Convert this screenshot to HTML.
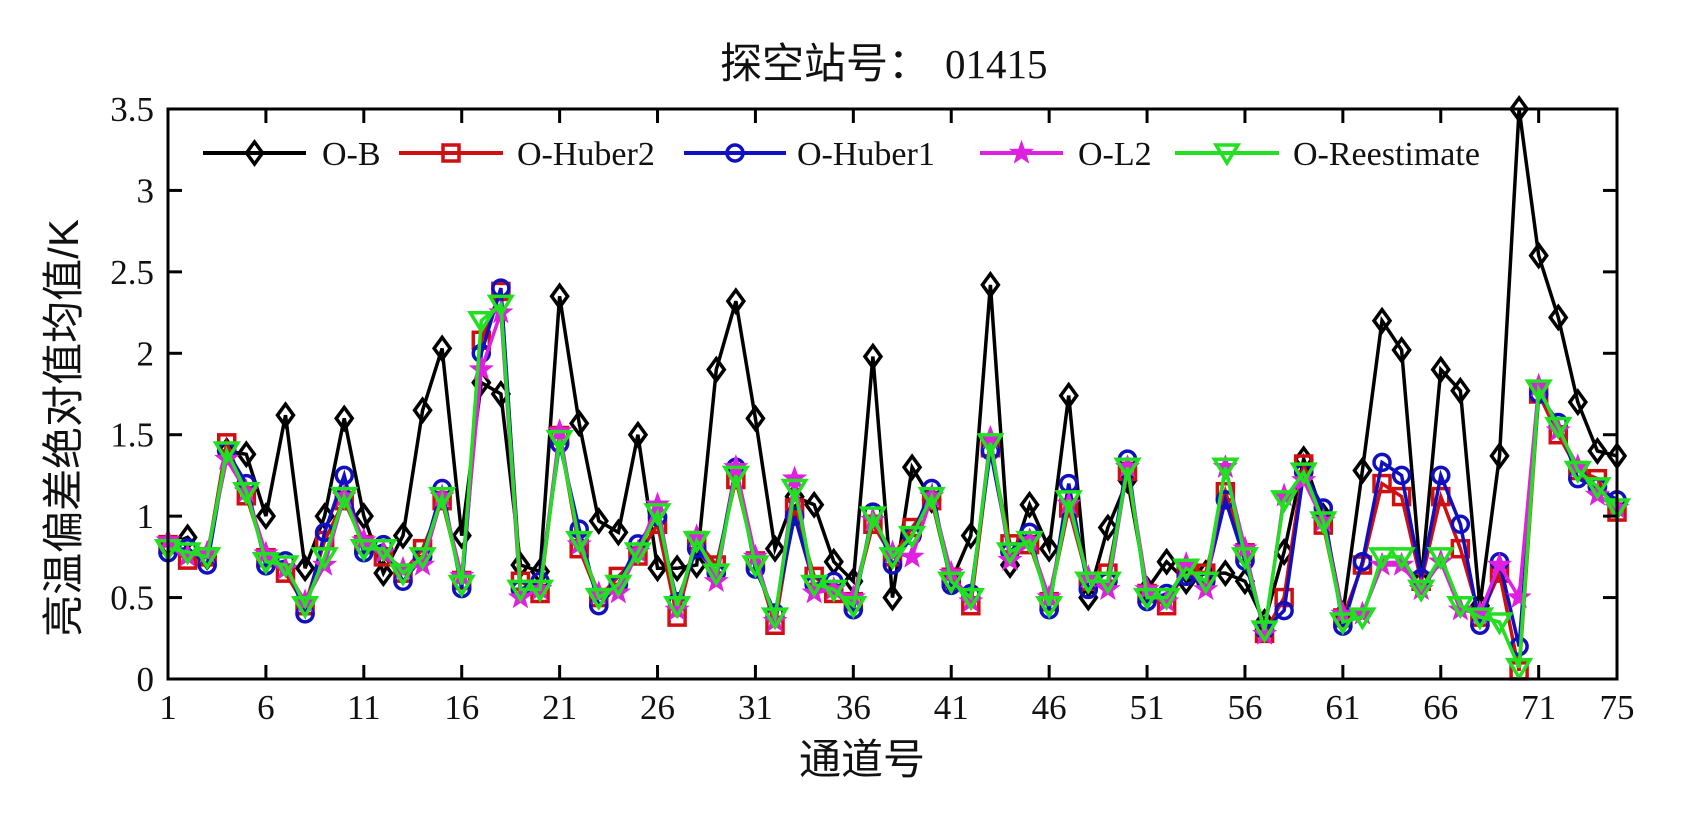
<!DOCTYPE html>
<html><head><meta charset="utf-8"><style>
body{margin:0;background:#fff;}
svg text{font-family:"Liberation Serif","Noto Serif CJK SC",serif;fill:#111;}
svg text.c{font-family:"Liberation Sans","Noto Sans CJK SC",sans-serif;}
</style></head><body>
<svg id="s" width="1684" height="820" xmlns="http://www.w3.org/2000/svg">
<rect width="1684" height="820" fill="#fff"/>
<text class="c" x="720" y="78" font-size="42">探空站号：</text>
<text x="945" y="78" font-size="41" fill="#222">01415</text>
<text class="c" x="862" y="774" font-size="42" text-anchor="middle">通道号</text>
<text class="c" transform="translate(78,428) rotate(-90)" font-size="42" text-anchor="middle">亮温偏差绝对值均值/K</text>
<g id="g"></g>
</svg>
<script>
var L=168,R=1617,T=109,B=679;
function X(c){return L+(c-1)*(R-L)/74;}
function Y(v){return B-v*(B-T)/3.5;}
var ob=[0.82,0.87,0.75,1.4,1.38,1.0,1.62,0.68,1.0,1.6,1.0,0.65,0.88,1.65,2.03,0.88,1.82,1.75,0.7,0.66,2.35,1.57,0.97,0.9,1.5,0.68,0.68,0.7,1.9,2.32,1.6,0.8,1.12,1.07,0.72,0.6,1.98,0.5,1.3,1.1,0.6,0.88,2.42,0.7,1.07,0.8,1.74,0.5,0.93,1.22,0.55,0.72,0.6,0.65,0.65,0.6,0.35,0.78,1.35,1.0,0.4,1.28,2.2,2.02,0.6,1.9,1.77,0.45,1.37,3.5,2.6,2.22,1.7,1.4,1.37];
var gr=[0.8,0.78,0.75,1.4,1.15,0.72,0.7,0.45,0.75,1.12,0.8,0.8,0.65,0.75,1.12,0.58,2.2,2.3,0.55,0.55,1.47,0.85,0.5,0.58,0.78,1.02,0.45,0.85,0.65,1.25,0.7,0.38,1.17,0.58,0.55,0.45,1.0,0.75,0.88,1.12,0.6,0.5,1.45,0.78,0.85,0.45,1.1,0.6,0.6,1.3,0.5,0.5,0.68,0.6,1.3,0.75,0.3,1.1,1.27,0.97,0.35,0.38,0.75,0.75,0.55,0.75,0.45,0.38,0.35,0.07,1.78,1.55,1.28,1.18,1.05];
function vary(a,k,ov){return a.map(function(v,i){var c=i+1;if(ov[c]!==undefined)return ov[c];return Math.max(0.05,v+(((i*7+k*13)%5)-2)*0.025);});}
var red=vary(gr,1,{4:1.45,9:0.85,17:2.08,18:2.38,26:0.95,27:0.38,33:1.05,43:1.42,55:1.15,57:0.28,58:0.5,59:1.32,62:0.7,63:1.2,64:1.12,65:0.6,66:1.12,67:0.8,69:0.65,70:0.05,71:1.75});
var blu=vary(gr,2,{9:0.9,10:1.25,17:2.0,18:2.4,22:0.92,33:1.0,43:1.4,47:1.2,55:1.1,57:0.3,58:0.42,60:1.05,62:0.72,63:1.33,64:1.25,65:0.62,66:1.25,67:0.95,69:0.72,70:0.2,71:1.75});
var mag=vary(gr,3,{17:1.9,18:2.25,30:1.3,33:1.23,39:0.75,43:1.48,62:0.4,63:0.7,64:0.7,66:0.72,69:0.7,70:0.5,71:1.8});
var g=document.getElementById('g'),h='';
function mk(t,x,y,c){
 if(t=='d')return '<path d="M'+x+' '+(y-11)+'L'+(x+8)+' '+y+'L'+x+' '+(y+11)+'L'+(x-8)+' '+y+'Z" fill="none" stroke="'+c+'" stroke-width="3.5"/>';
 if(t=='s')return '<rect x="'+(x-8)+'" y="'+(y-8)+'" width="16" height="16" fill="none" stroke="'+c+'" stroke-width="3.5"/>';
 if(t=='o')return '<circle cx="'+x+'" cy="'+y+'" r="8" fill="none" stroke="'+c+'" stroke-width="3.5"/>';
 if(t=='*'){var p='';for(var i=0;i<10;i++){var r=i%2?4.5:11,a=-Math.PI/2+i*Math.PI/5;p+=(i?'L':'M')+(x+r*Math.cos(a)).toFixed(1)+' '+(y+r*Math.sin(a)).toFixed(1);}return '<path d="'+p+'Z" fill="'+c+'" stroke="'+c+'" stroke-width="1.5"/>';}
 if(t=='v')return '<path d="M'+(x-11)+' '+(y-8)+'L'+(x+11)+' '+(y-8)+'L'+x+' '+(y+10)+'Z" fill="none" stroke="'+c+'" stroke-width="3.5"/>';
}
var S=[[ob,'#000','d'],[red,'#d01010','s'],[blu,'#1010c0','o'],[mag,'#e020e0','*'],[gr,'#20e020','v']];
S.forEach(function(s){var pts=s[0].map(function(v,i){return X(i+1).toFixed(1)+','+Y(v).toFixed(1);}).join(' ');
 h+='<polyline points="'+pts+'" fill="none" stroke="'+s[1]+'" stroke-width="3.5"/>';
 s[0].forEach(function(v,i){h+=mk(s[2],X(i+1),Y(v),s[1]);});});
h+='<rect x="'+L+'" y="'+T+'" width="'+(R-L)+'" height="'+(B-T)+'" fill="none" stroke="#000" stroke-width="3"/>';
var xt=[1,6,11,16,21,26,31,36,41,46,51,56,61,66,71,75];
xt.forEach(function(c){var x=X(c);h+='<line x1="'+x+'" y1="'+B+'" x2="'+x+'" y2="'+(B-14)+'" stroke="#000" stroke-width="3"/><line x1="'+x+'" y1="'+T+'" x2="'+x+'" y2="'+(T+14)+'" stroke="#000" stroke-width="3"/>';
 h+='<text x="'+x+'" y="'+(B+40)+'" font-size="35" text-anchor="middle">'+c+'</text>';});
['0','0.5','1','1.5','2','2.5','3','3.5'].forEach(function(t,i){var y=Y(i*0.5);h+='<line x1="'+L+'" y1="'+y+'" x2="'+(L+14)+'" y2="'+y+'" stroke="#000" stroke-width="3"/><line x1="'+R+'" y1="'+y+'" x2="'+(R-14)+'" y2="'+y+'" stroke="#000" stroke-width="3"/>';
 h+='<text x="'+(L-14)+'" y="'+(y+12)+'" font-size="35" text-anchor="end">'+t+'</text>';});
var lg=[[203,306,322,'O-B'],[399,503,517,'O-Huber2'],[684,786,797,'O-Huber1'],[980,1063,1078,'O-L2'],[1175,1279,1293,'O-Reestimate']];
h+='<rect x="185" y="130" width="1310" height="48" fill="#fff"/>';
lg.forEach(function(l,i){var s=S[i],y=153;h+='<line x1="'+l[0]+'" y1="'+y+'" x2="'+l[1]+'" y2="'+y+'" stroke="'+s[1]+'" stroke-width="4"/>'+mk(s[2],(l[0]+l[1])/2,y,s[1]);
 h+='<text x="'+l[2]+'" y="'+(y+12)+'" font-size="34">'+l[3]+'</text>';});
g.innerHTML=h;
</script>
</body></html>
